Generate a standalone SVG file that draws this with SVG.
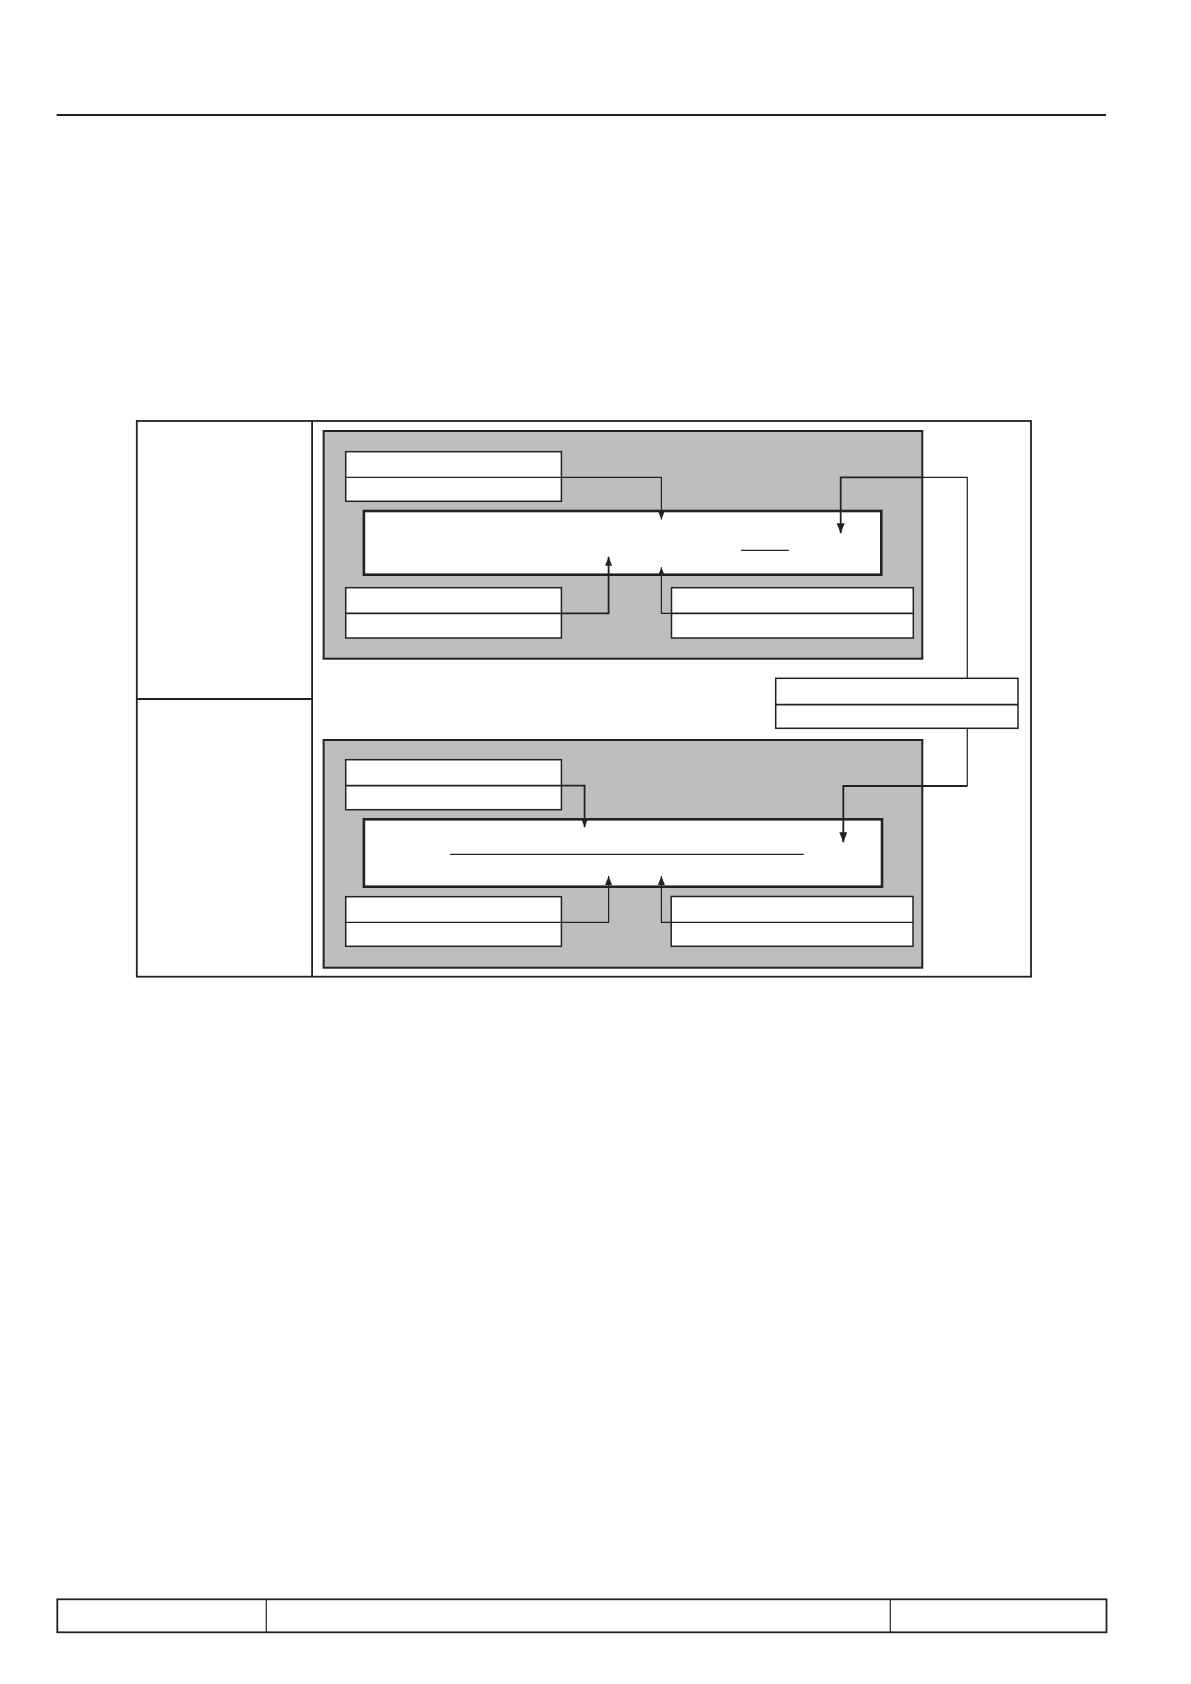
<svg xmlns="http://www.w3.org/2000/svg" width="1191" height="1684" viewBox="0 0 1191 1684">
<style>
.ln{stroke:#222;fill:none}
.box{fill:#fff;stroke:#222;stroke-width:1.5}
.inner{fill:#fff;stroke:#222;stroke-width:2.6}
.grey{fill:#bebebe;stroke:#222;stroke-width:2}
.frame{fill:none;stroke:#222;stroke-width:1.8}
.thin{stroke:#222;stroke-width:1.2;fill:none}
.mid{stroke:#222;stroke-width:1.8;fill:none}
</style>
<defs>
<marker id="ah" markerUnits="userSpaceOnUse" markerWidth="10" markerHeight="8" refX="9" refY="3.5" orient="auto">
<path d="M0,0 L9,3.5 L0,7 z" fill="#222"/>
</marker>
<marker id="ahL" markerUnits="userSpaceOnUse" markerWidth="11" markerHeight="9" refX="10" refY="4" orient="auto">
<path d="M0,0 L10,4 L0,8 z" fill="#222"/>
</marker>
</defs>
<rect width="1191" height="1684" fill="#fff"/>
<g id="header">
<line x1="56.7" y1="115" x2="1106" y2="115" stroke="#222" stroke-width="2.2"/>
</g>
<g id="frame">
<rect class="frame" x="136.8" y="421" width="894.2" height="555.7"/>
<line class="ln" x1="312.1" y1="421" x2="312.1" y2="976.7" stroke-width="1.8"/>
<line class="ln" x1="136.8" y1="699" x2="312.1" y2="699" stroke-width="1.8"/>
</g>
<g id="upper-group">
<rect class="grey" x="323.6" y="431" width="598.7" height="227.7"/>
</g>
<g id="lower-group">
<rect class="grey" x="323.6" y="740" width="598.7" height="227.7"/>
</g>
<g id="node-a">
<rect class="box" x="345.7" y="451.7" width="215.7" height="49.6"/>
<line class="thin" x1="345.7" y1="477.3" x2="561.4" y2="477.3"/>
</g>
<g id="node-upper-main">
<rect class="inner" x="363.9" y="511" width="517.4" height="63.7"/>
<line class="thin" x1="741" y1="550.3" x2="788.7" y2="550.3"/>
</g>
<g id="node-b">
<rect class="box" x="345.7" y="587.7" width="215.7" height="50.3"/>
<line class="mid" x1="345.7" y1="613.3" x2="561.4" y2="613.3"/>
</g>
<g id="node-c">
<rect class="box" x="671.5" y="587.7" width="241.8" height="50.3"/>
<line class="mid" x1="671.5" y1="613.3" x2="913.3" y2="613.3"/>
</g>
<g id="node-e">
<rect class="box" x="775.7" y="678.3" width="242.3" height="50"/>
<line class="mid" x1="775.7" y1="704.7" x2="1018" y2="704.7"/>
</g>
<g id="node-f">
<rect class="box" x="345.7" y="759.7" width="215.7" height="50"/>
<line class="mid" x1="345.7" y1="785.7" x2="561.4" y2="785.7"/>
</g>
<g id="node-lower-main">
<rect class="inner" x="363.9" y="819.3" width="518.1" height="67.4"/>
<line class="thin" x1="450" y1="854.3" x2="803.7" y2="854.3"/>
</g>
<g id="node-g">
<rect class="box" x="345.7" y="896.7" width="215.7" height="49.6"/>
<line class="thin" x1="345.7" y1="922.3" x2="561.4" y2="922.3"/>
</g>
<g id="node-h">
<rect class="box" x="671.2" y="896.5" width="241.8" height="49.8"/>
<line class="thin" x1="671.2" y1="922.3" x2="913" y2="922.3"/>
</g>
<g id="connectors">
<path class="thin" d="M561.4,477.3 H661.4 V519.5" marker-end="url(#ah)"/>
<path class="mid" d="M561.4,613.3 H608.6 V556.7" marker-end="url(#ah)"/>
<path class="thin" d="M671.5,613.3 H661.4 V567.3" marker-end="url(#ah)"/>
<path class="thin" d="M967.3,678.3 V477.3 H922.3"/>
<path class="mid" d="M922.3,477.3 H840.7 V533.3" marker-end="url(#ahL)"/>
<path class="mid" d="M561.4,785.7 H584.6 V827.3" marker-end="url(#ah)"/>
<path class="thin" d="M561.4,922.3 H608.6 V876" marker-end="url(#ah)"/>
<path class="thin" d="M671.2,922.3 H661.4 V876" marker-end="url(#ah)"/>
<path class="thin" d="M967.3,728.3 V786"/>
<path class="mid" d="M967.3,786 H843.3 V842.3" marker-end="url(#ahL)"/>
</g>
<g id="footer">
<rect class="frame" x="57.3" y="1599.3" width="1049.2" height="33"/>
<line class="thin" x1="266.3" y1="1599.3" x2="266.3" y2="1632.3"/>
<line class="thin" x1="890.3" y1="1599.3" x2="890.3" y2="1632.3"/>
</g>
</svg>
